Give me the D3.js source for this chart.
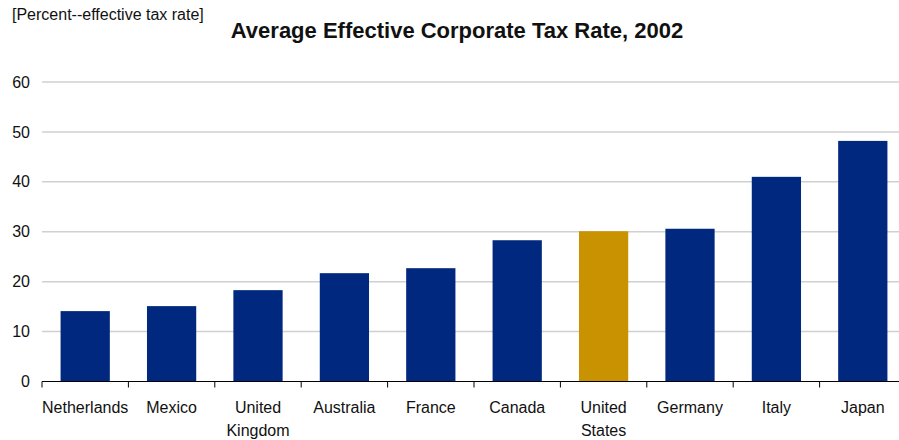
<!DOCTYPE html>
<html>
<head>
<meta charset="utf-8">
<script src="https://cdn.jsdelivr.net/npm/d3@7"></script>
<style>
  body { margin: 0; background: #fff; }
  text { font-family: "Liberation Sans", Arial, sans-serif; fill: #111; }
</style>
</head>
<body>
<div id="chart"></div>
<script>
// data
var countries = ["Netherlands", "Mexico", "United\nKingdom", "Australia", "France",
                 "Canada", "United\nStates", "Germany", "Italy", "Japan"];
var rates = [14.1, 15.1, 18.3, 21.7, 22.7, 28.3, 30.1, 30.6, 41.0, 48.2];
var highlight = "United\nStates";
var yTicks = [0, 10, 20, 30, 40, 50, 60];

var width = 899, height = 440;

var svg = d3.select("#chart")
            .append("svg")
            .attr("width", width)
            .attr("height", height);

var x = d3.scaleBand()
          .domain(countries)
          .range([42, 906])
          .paddingInner(0.43)
          .paddingOuter(0.215);

var y = d3.scaleLinear()
          .domain([0, 60])
          .range([381.5, 82]);

// gridlines
svg.append("g")
   .selectAll("line")
   .data(yTicks.slice(1))
   .enter().append("line")
   .attr("x1", 42)
   .attr("x2", width)
   .attr("y1", function(d){ return y(d); })
   .attr("y2", function(d){ return y(d); })
   .attr("stroke", "#d0d0d0")
   .attr("stroke-width", 1.5);

// y labels
svg.append("g")
   .selectAll("text")
   .data(yTicks)
   .enter().append("text")
   .attr("x", 30)
   .attr("y", function(d){ return y(d); })
   .attr("dy", "0.35em")
   .attr("text-anchor", "end")
   .style("font-size", "16px")
   .text(function(d){ return d; });

// bars
svg.append("g")
   .selectAll("rect")
   .data(countries)
   .enter().append("rect")
   .attr("x", function(d){ return x(d); })
   .attr("width", x.bandwidth())
   .attr("y", function(d, i){ return y(rates[i]); })
   .attr("height", function(d, i){ return y(0) - y(rates[i]); })
   .attr("fill", function(d){ return d == highlight ? "#c89200" : "#00287e"; });

// x axis line and ticks at band edges
svg.append("line")
   .attr("x1", 42).attr("x2", width)
   .attr("y1", y(0)).attr("y2", y(0))
   .attr("stroke", "#000").attr("stroke-width", 1.2);

var gap = x.step() * x.paddingInner() / 2;
svg.append("g")
   .selectAll("line")
   .data(countries)
   .enter().append("line")
   .attr("x1", function(d){ return x(d) - gap; })
   .attr("x2", function(d){ return x(d) - gap; })
   .attr("y1", y(0))
   .attr("y2", y(0) + 6)
   .attr("stroke", "#000")
   .attr("stroke-width", 1);

// x labels, split on newline
var labels = svg.append("g")
   .selectAll("text")
   .data(countries)
   .enter().append("text")
   .attr("x", function(d){ return x(d) + x.bandwidth() / 2; })
   .attr("y", 413)
   .attr("text-anchor", "middle")
   .style("font-size", "16px");

labels.selectAll("tspan")
   .data(function(d){ return d.split("\n"); })
   .enter().append("tspan")
   .attr("x", function(){ return this.parentNode.getAttribute("x"); })
   .attr("dy", function(d, i){ return i == 0 ? 0 : 23; })
   .text(function(d){ return d; });

// titles
svg.append("text")
   .attr("x", 12)
   .attr("y", 20)
   .style("font-size", "16px")
   .text("[Percent--effective tax rate]");

svg.append("text")
   .attr("x", 457)
   .attr("y", 38)
   .attr("text-anchor", "middle")
   .style("font-size", "22px")
   .style("font-weight", "bold")
   .text("Average Effective Corporate Tax Rate, 2002");
</script>
</body>
</html>
